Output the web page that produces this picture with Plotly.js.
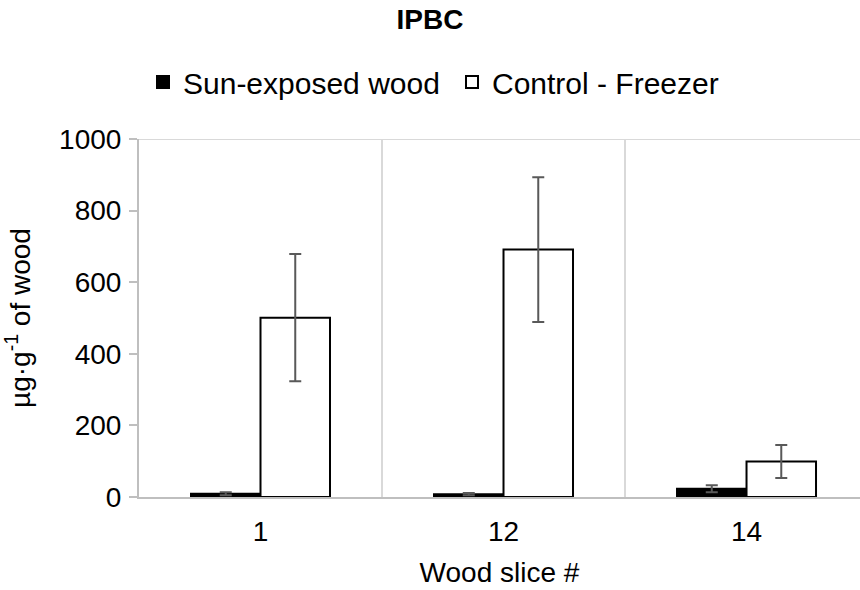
<!DOCTYPE html>
<html>
<head>
<meta charset="utf-8">
<script src="https://cdn.plot.ly/plotly-3.0.1.min.js"></script>
<style>html,body{margin:0;padding:0;background:#fff;}#chart{width:860px;height:590px;}</style>
</head>
<body>
<div id="chart"></div>
<script>
const categories = ["1", "12", "14"];
const sunExposed = [9, 8, 23];
const sunExposedErr = [4, 3, 10];
const control = [501, 691, 99];
const controlErr = [178, 202, 46];
const yTicks = [0, 200, 400, 600, 800, 1000];

const font = {family: "Liberation Sans, Arial, sans-serif", size: 28, color: "#000"};
const legendFont = {family: "Liberation Sans, Arial, sans-serif", size: 30, color: "#000"};

const traces = [
  {
    type: "bar", name: "Sun-exposed wood", x: categories, y: sunExposed,
    marker: {color: "#000", line: {color: "#000", width: 2}},
    error_y: {type: "data", array: sunExposedErr, visible: true, color: "#595959", thickness: 2, width: 6}
  },
  {
    type: "bar", name: "Control - Freezer", x: categories, y: control,
    marker: {color: "#fff", line: {color: "#000", width: 2}},
    error_y: {type: "data", array: controlErr, visible: true, color: "#595959", thickness: 2, width: 6}
  }
];

const layout = {
  width: 860, height: 590,
  margin: {l: 139, r: 0, t: 139, b: 93},
  paper_bgcolor: "#fff", plot_bgcolor: "#fff",
  font: font,
  title: {text: "<b>IPBC</b>", font: {family: font.family, size: 28, color: "#000"},
          x: 0.5, xref: "container", xanchor: "center", y: 1 - 19/590, yref: "container", yanchor: "middle"},
  showlegend: true,
  legend: {orientation: "h", xref: "container", x: 143/860, xanchor: "left",
           yref: "container", y: 1 - 82/590, yanchor: "middle",
           font: legendFont, traceorder: "normal", itemwidth: 30, entrywidth: 264},
  barmode: "group", bargap: 0.428, bargroupgap: 0,
  xaxis: {
    type: "category", range: [-0.5, 2.467], tickson: "boundaries",
    showgrid: true, gridcolor: "#d9d9d9", gridwidth: 2,
    showline: true, linecolor: "#bfbfbf", linewidth: 2,
    ticks: "", tickfont: font, ticklabelstandoff: 8,
    title: {text: "Wood slice #", font: font, standoff: 17},
    automargin: false, fixedrange: true
  },
  yaxis: {
    range: [0, 1000], tickvals: yTicks, ticktext: yTicks.map(String),
    showgrid: false, zeroline: false,
    showline: true, linecolor: "#bfbfbf", linewidth: 2,
    ticks: "outside", ticklen: 8, tickcolor: "#bfbfbf", tickwidth: 2,
    tickfont: font, ticklabelstandoff: 2,
    title: {text: "µg·g<sup>-1</sup> of wood", font: font, standoff: 22},
    automargin: false, fixedrange: true
  },
  shapes: [
    {type: "line", xref: "paper", yref: "y", x0: 0, x1: 1, y0: 1000, y1: 1000,
     line: {color: "#d9d9d9", width: 2}, layer: "below"}
  ]
};

Plotly.newPlot("chart", traces, layout, {staticPlot: true, displayModeBar: false});
</script>
</body>
</html>
